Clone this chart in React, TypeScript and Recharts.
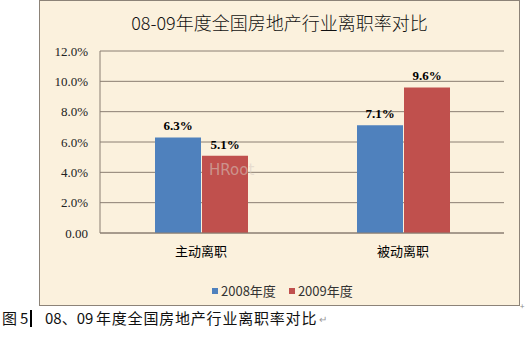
import React from "react";
import { BarChart, Bar, XAxis, YAxis, CartesianGrid, LabelList } from "recharts";

const categories = ["主动离职", "被动离职"];
const series2008 = [6.3, 7.1];
const series2009 = [5.1, 9.6];
const seriesNames = ["2008年度", "2009年度"];
const yTicks = [0, 2, 4, 6, 8, 10, 12];
const title = "08-09年度全国房地产行业离职率对比";

const data = categories.map((c, i) => ({ name: c, a: series2008[i], b: series2009[i] }));

const BLUE = "#4F81BD";
const RED = "#C0504D";
const GRID = "#8a7e72";
const SERIF = "'Liberation Serif', 'Times New Roman', serif";
const CJK = "'Noto Sans CJK SC', 'Noto Sans', sans-serif";

const fmtTick = (v: number) => (v === 0 ? "0.00" : v.toFixed(1) + "%");
const fmtLabel = (v: any) => Number(v).toFixed(1) + "%";

export default function App() {
  return (
    <div style={{ position: "absolute", left: 0, top: 0, width: 525, height: 340, background: "#fff", overflow: "hidden" }}>
      <div
        style={{
          position: "absolute",
          left: 39,
          top: 0,
          width: 479,
          height: 304,
          background: "#FBF1DD",
          border: "1px solid #8c8378",
        }}
      />
      <div
        style={{
          position: "absolute",
          left: 39,
          top: 10,
          width: 481,
          textAlign: "center",
          fontFamily: CJK,
          fontSize: 18,
          fontWeight: 300,
          color: "#111",
          lineHeight: "24px",
        }}
      >
        {title}
      </div>
      <div style={{ position: "absolute", left: 0, top: 0 }}>
        <BarChart
          width={525}
          height={340}
          data={data}
          margin={{ top: 51, right: 21, bottom: 77, left: 40 }}
          barSize={46}
          barGap={1}
        >
          <CartesianGrid vertical={false} stroke={GRID} strokeWidth={1} />
          <XAxis
            dataKey="name"
            axisLine={{ stroke: GRID }}
            tickLine={false}
            tickSize={0}
            tickMargin={14}
            height={30}
            tick={{ fontFamily: CJK, fontSize: 13, fill: "#000" }}
            interval={0}
          />
          <YAxis
            width={60}
            domain={[0, 12]}
            ticks={yTicks}
            tickFormatter={fmtTick}
            axisLine={{ stroke: GRID }}
            tickLine={false}
            tickSize={0}
            tickMargin={12}
            tick={{ fontFamily: SERIF, fontSize: 13, fill: "#222" }}
          />
          <Bar dataKey="a" name={seriesNames[0]} fill={BLUE} isAnimationActive={false}>
            <LabelList
              dataKey="a"
              position="top"
              offset={7}
              formatter={fmtLabel}
              style={{ fontFamily: SERIF, fontWeight: "bold", fontSize: 13, fill: "#000" }}
            />
          </Bar>
          <Bar dataKey="b" name={seriesNames[1]} fill={RED} isAnimationActive={false}>
            <LabelList
              dataKey="b"
              position="top"
              offset={7}
              formatter={fmtLabel}
              style={{ fontFamily: SERIF, fontWeight: "bold", fontSize: 13, fill: "#000" }}
            />
          </Bar>
        </BarChart>
      </div>
      <div
        style={{
          position: "absolute",
          left: 209,
          top: 161,
          fontFamily: "'DejaVu Sans', sans-serif",
          fontSize: 15,
          color: "rgba(215,205,195,0.55)",
        }}
      >
        HRoot
      </div>
      <div
        style={{
          position: "absolute",
          left: 212,
          top: 282,
          display: "flex",
          alignItems: "center",
          fontFamily: CJK,
          fontSize: 13,
          color: "#333",
          lineHeight: "18px",
        }}
      >
        <span style={{ display: "inline-block", width: 6, height: 6, background: BLUE, marginRight: 3 }} />
        <span style={{ marginRight: 13 }}>{seriesNames[0]}</span>
        <span style={{ display: "inline-block", width: 6, height: 6, background: RED, marginRight: 3 }} />
        <span>{seriesNames[1]}</span>
      </div>
      <div style={{ position: "absolute", left: 520, top: 300, fontSize: 8, color: "#888", fontFamily: CJK }}>+</div>
      <div style={{ position: "absolute", left: 0, top: 308, width: 525, height: 22, fontFamily: CJK, fontSize: 15, color: "#111", lineHeight: "20px" }}>
        <span style={{ position: "absolute", left: 2, top: 0 }}>图</span>
        <span style={{ position: "absolute", left: 20, top: 0 }}>5</span>
        <span style={{ position: "absolute", left: 30, top: 2, width: 2, height: 17, background: "#000" }} />
        <span style={{ position: "absolute", left: 45, top: 0 }}>08、09</span>
        <span style={{ position: "absolute", left: 96, top: 0, letterSpacing: 0.8 }}>年度全国房地产行业离职率对比</span>
        <span style={{ position: "absolute", left: 319, top: 1, fontSize: 10, color: "#999" }}>↵</span>
      </div>
    </div>
  );
}
